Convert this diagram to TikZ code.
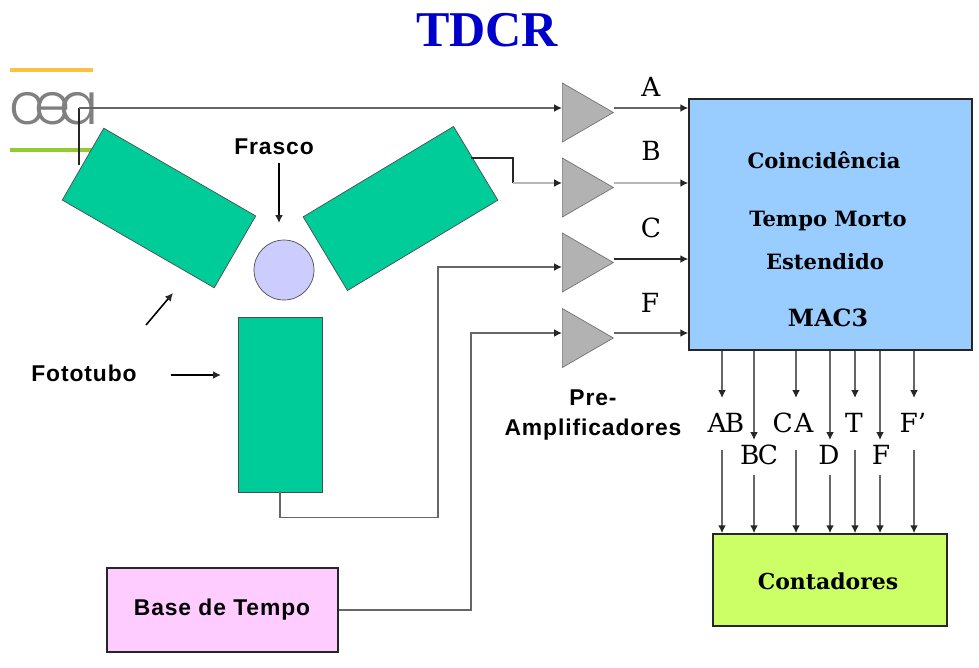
\documentclass[tikz,border=0pt]{standalone}
\usepackage{fontspec}
\setmainfont{Liberation Sans}
\newfontfamily\labelfont{DejaVu Serif}
\newfontfamily\boxfont{DejaVu Serif}
\newfontfamily\titlefont{Liberation Serif}
\newfontfamily\ceafont{Poppins Light}
\newfontfamily\capfont[LetterSpace=4]{Liberation Sans}
\usetikzlibrary{arrows.meta,positioning,shapes.geometric}

\begin{document}
\begin{tikzpicture}
	% Styles
	[
	x=0.02cm,y=-0.02cm,>={Latex[length=4.5pt,width=4.5pt,color=black!85]},
	tube/.style={rectangle,draw=black!70,fill=tubegreen,inner sep=0pt,minimum width=3.51cm,minimum height=1.66cm},
	amp/.style={isosceles triangle,isosceles triangle stretches,shape border rotate=0,anchor=lower side,draw=black!55,fill=ampgray,inner sep=0pt,minimum height=1.02cm,minimum width=1.18cm},
	block/.style={rectangle,draw=black!85,line width=0.9pt,inner sep=0pt},
	link/.style={draw=black!60,line width=0.9pt},
	pale/.style={draw=black!28,line width=1.3pt},
	dark/.style={draw=black!85,line width=0.8pt},
	pointer/.style={draw=black,line width=0.9pt,->},
	sig/.style={font=\labelfont\fontsize{15}{15}\selectfont,inner sep=0pt},
	caption/.style={font=\capfont\bfseries\fontsize{13}{17}\selectfont,inner sep=0pt,align=center},
	boxtext/.style={font=\boxfont\bfseries\fontsize{12}{14}\selectfont,inner sep=0pt},
	]
	\definecolor{tubegreen}{HTML}{00CC99}
	\definecolor{ampgray}{HTML}{B2B2B2}
	\definecolor{macblue}{HTML}{99CCFF}
	\definecolor{vialblue}{HTML}{CCCCFF}
	\definecolor{basepink}{HTML}{FFCCFF}
	\definecolor{countgreen}{HTML}{CCFF66}
	\definecolor{ceaorange}{HTML}{FFC040}
	\definecolor{ceagreen}{HTML}{90CC30}
	\useasboundingbox (0,0) rectangle (979,667);

	% Title and logo
	\node at (487,30)	(title)	[font=\titlefont\bfseries\fontsize{28.5}{28.5}\selectfont,text={rgb,255:red,0;green,0;blue,204},inner sep=0pt] {TDCR};
	\draw[draw=ceaorange,line width=1.8pt] (10,70) -- (93,70);
	\draw[draw=ceagreen,line width=1.8pt] (10,150) -- (93,150);
	\node at (54,109)	(cea)	[font=\ceafont\fontsize{33}{33}\selectfont,text=black!50,inner sep=0pt] {c\kern-6pt e\kern-6pt a};

	% Nodes
	\node at (159,208)	(tubea)	[tube,rotate=-30] {};
	\node at (400.5,208.5)	(tubeb)	[tube,rotate=31,minimum height=1.72cm] {};
	\node at (280,404.5)	(tubec)	[tube,minimum width=1.68cm,minimum height=3.5cm] {};
	\node at (284,270)	(vial)	[circle,draw=black!70,fill=vialblue,inner sep=0pt,minimum size=1.2cm] {};

	\node at (562,112.5)	(ampa)	[amp] {};
	\node at (562,187.5)	(ampb)	[amp] {};
	\node at (562,262.5)	(ampc)	[amp] {};
	\node at (562,338)	(ampf)	[amp] {};

	\node at (830.5,224.5)	(mac)	[block,fill=macblue,minimum width=5.66cm,minimum height=5.02cm] {};
	\node at (830,580)	(cnt)	[block,fill=countgreen,minimum width=4.68cm,minimum height=1.84cm] {};
	\node at (222.5,610)	(base)	[block,fill=basepink,minimum width=4.62cm,minimum height=1.68cm] {};

	% Texts
	\node at (824,160)	(coin)	[boxtext] {Coincidência};
	\node at (828,221)	(morto)	[boxtext] {Tempo Morto};
	\node at (825,262)	(est)	[boxtext] {Estendido};
	\node at (828,318)	(mactxt)	[boxtext,font=\boxfont\bfseries\fontsize{13.5}{14}\selectfont] {MAC3};
	\node at (828,581)	(cnttxt)	[boxtext,font=\boxfont\bfseries\fontsize{12.5}{14}\selectfont] {Contadores};
	\node at (222,610)	(basetxt)	[caption] {Base de Tempo};
	\node at (274,147)	(frasco)	[caption] {Frasco};
	\node at (84,373)	(foto)	[caption] {Fototubo};
	\node at (593,415)	(pre)	[caption] {Pre-\\Amplificadores};

	\node at (651,87)	(la)	[sig] {A};
	\node at (651,151)	(lb)	[sig] {B};
	\node at (651,228)	(lc)	[sig] {C};
	\node at (650,303)	(lf)	[sig] {F};
	\node at (726,423)	(lab)	[sig] {A\kern-1pt B};
	\node at (759,455)	(lbc)	[sig] {B\kern-1pt C};
	\node at (793,423)	(lca)	[sig] {C\kern1pt A};
	\node at (829,455)	(ld)	[sig] {D};
	\node at (854,423)	(lt)	[sig] {T};
	\node at (881,455)	(lff)	[sig] {F};
	\node at (913,423)	(lfp)	[sig] {F’};

	% Connections
	\coordinate (ina) at (562,108);
	\coordinate (inb) at (562,183);
	\coordinate (inc) at (562,267);
	\coordinate (inf) at (562,333);
	\coordinate (outc) at (613,259);
	\coordinate (joina) at (79,108);
	\coordinate (foota) at (79,165);
	\coordinate (tapb) at (471,158);
	\coordinate (stepb) at (513,158);

	\draw[dark] (joina) -- (foota);
	\draw[link,->] (joina) -- (ina -| ampa.lower side);
	\draw[dark] (tapb) -- (stepb) -- (stepb |- inb);
	\draw[pale,->] (stepb |- inb) -- (inb -| ampb.lower side);
	\draw[link,->] (tubec.south) -- ++(0,25) -| (438,267) -- (inc -| ampc.lower side);
	\draw[link,->] (base.east) -| (471,333) -- (inf -| ampf.lower side);

	\draw[link,->] (ina -| ampa.apex) -- (ina -| mac.west);
	\draw[pale,->] (inb -| ampb.apex) -- (inb -| mac.west);
	\draw[dark,->] (outc -| ampc.apex) -- (outc -| mac.west);
	\draw[link,->] (inf -| ampf.apex) -- (inf -| mac.west);

	\foreach \x/\n/\up/\lo in {722/ab/398/450,754/bc/440/475,796/ca/398/450,830/d/440/475,855/t/398/450,880/f/440/475,914/fp/398/450} {
		\coordinate (up\n) at (\x,\up);
		\coordinate (lo\n) at (\x,\lo);
		\draw[link,->] (up\n |- mac.south) -- (up\n);
		\draw[link,->] (lo\n) -- (lo\n |- cnt.north);
	}

	% Pointers
	\coordinate (fraend) at (279,223);
	\coordinate (fotoend) at (221,375);
	\coordinate (diagstart) at (146,325);
	\coordinate (diagend) at (173,293);
	\draw[pointer] (fraend |- frasco.south) ++(0,8) -- (fraend);
	\draw[pointer] (171,375) -- (fotoend);
	\draw[pointer] (diagstart) -- (diagend);

\end{tikzpicture}
\end{document}
